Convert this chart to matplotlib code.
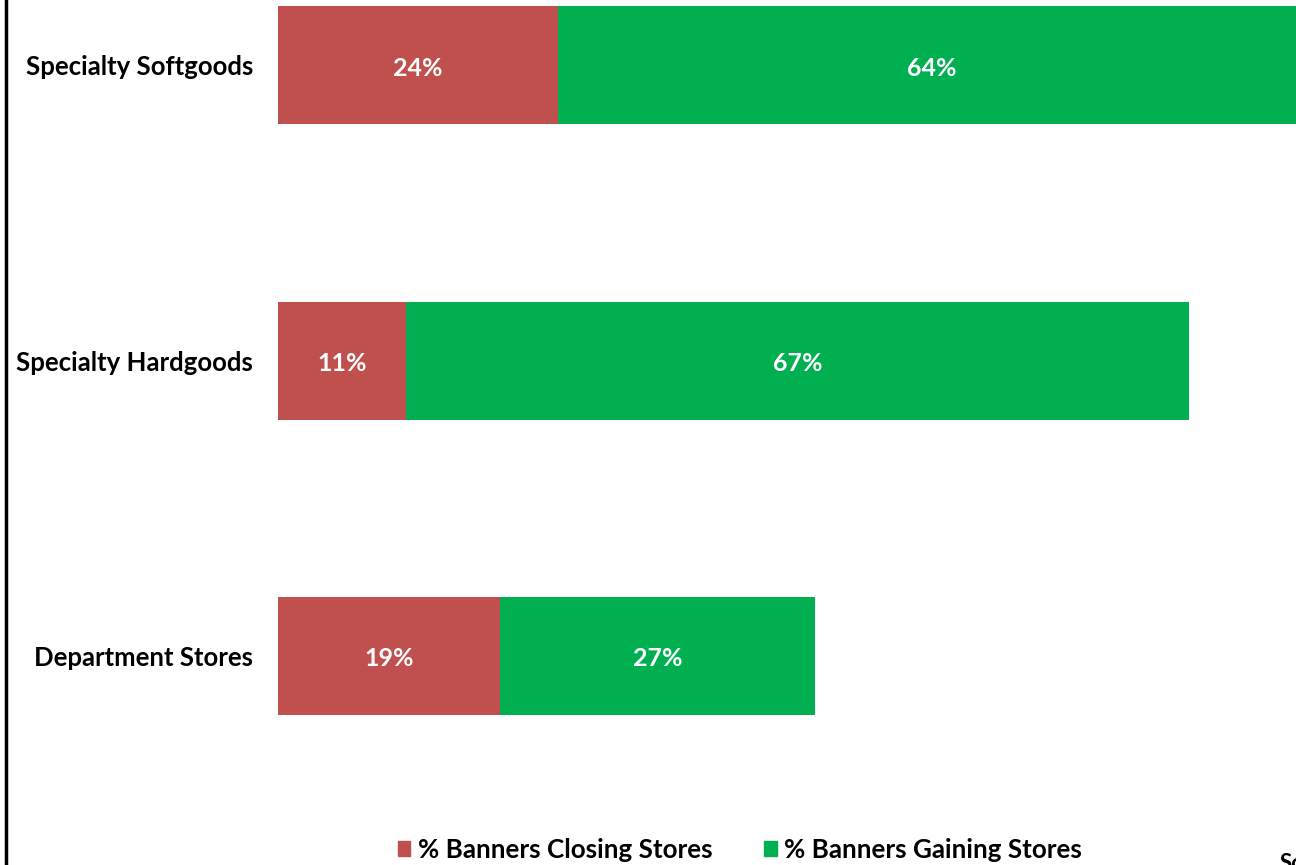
import matplotlib.pyplot as plt
from matplotlib.patches import Patch
from matplotlib.lines import Line2D

# data
categories = ["Department Stores", "Specialty Hardgoods", "Specialty Softgoods"]
closing = [19, 11, 24]
gaining = [27, 67, 64]
series_names = ["% Banners Closing Stores", "% Banners Gaining Stores"]

red = "#C0504D"
green = "#00B050"
font = "Lato"

fig = plt.figure(figsize=(12.96, 8.65), dpi=100)
ax = fig.add_axes([278 / 1296, 0.0, 1 - 278 / 1296, 1.0])

y = list(range(len(categories)))

# stacked bars
ax.barh(y, closing, height=0.4, color=red)
ax.barh(y, gaining, left=closing, height=0.4, color=green)

# value labels in the middle of each segment
for i in y:
    ax.text(closing[i] / 2, i - 0.01, f"{closing[i]}%", ha="center", va="center",
            color="white", fontsize=18, fontweight="bold", family=font)
    ax.text(closing[i] + gaining[i] / 2, i - 0.01, f"{gaining[i]}%", ha="center", va="center",
            color="white", fontsize=18, fontweight="bold", family=font)

ax.set_xlim(0, 87.2)
ax.set_ylim(-0.710, 2.222)
ax.set_yticks(y)
ax.set_yticklabels(categories, fontsize=18.5, fontweight="bold", family=font)
ax.tick_params(axis="y", length=0, pad=18)
ax.set_xticks([])
for s in ax.spines.values():
    s.set_visible(False)

# left border line of the cropped frame
fig.add_artist(Line2D([6 / 1296, 6 / 1296], [0, 1], transform=fig.transFigure,
                      color="black", lw=2.5))

# legend
handles = [Patch(color=red), Patch(color=green)]
fig.legend(handles, series_names, ncol=2, loc="center", bbox_to_anchor=(0.571, 0.0175),
           frameon=False, handlelength=0.47, handleheight=0.47, handletextpad=0.3,
           columnspacing=2.0, prop={"family": font, "weight": "bold", "size": 18.7})

# cut-off source note
fig.text(1280 / 1296, 1 - 853 / 865, "Source", ha="left", va="top",
         fontsize=16, fontweight="bold", family=font)

plt.savefig("out.png")
